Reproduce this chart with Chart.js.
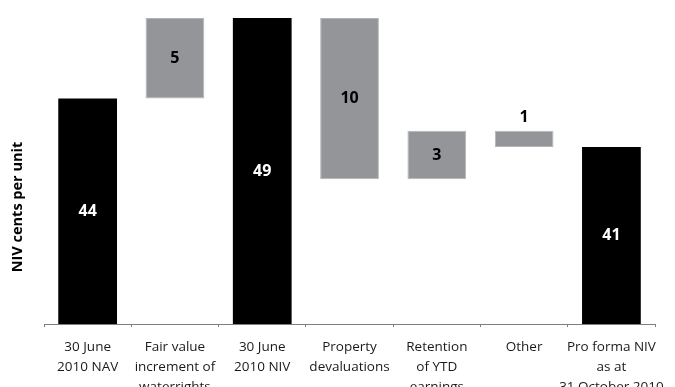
<!DOCTYPE html>
<html>
<head>
<meta charset="utf-8">
<script src="https://cdn.jsdelivr.net/npm/chart.js@4"></script>
<style>
  html, body { margin: 0; padding: 0; background: #fff; overflow: hidden; }
  #wrap { position: relative; width: 675px; height: 407px; }
</style>
</head>
<body>
<div id="wrap"><canvas id="c"></canvas></div>
<script>
// Bridge from 30 June 2010 NAV to pro forma NIV (cents per unit)
const categories = [
  ["30 June", "2010 NAV"],
  ["Fair value", "increment of", "waterrights"],
  ["30 June", "2010 NIV"],
  ["Property", "devaluations"],
  ["Retention", "of YTD", "earnings"],
  ["Other"],
  ["Pro forma NIV", "as at", "31 October 2010"]
];
const values = [44, 5, 49, -10, 3, -1, 41];
const kinds = ["total", "change", "total", "change", "change", "change", "total"];

const TOTAL_COLOR = "#000000";
const CHANGE_COLOR = "#939598";
const FONT = "'Open Sans', 'Noto Sans', sans-serif";

// Floating [start, end] ranges built from the running total
let running = 0;
const ranges = values.map((v, i) => {
  if (kinds[i] === "total") { running = v; return [0, v]; }
  const start = running;
  running += v;
  return [start, running];
});

const valueLabels = {
  id: "valueLabels",
  afterDatasetsDraw(chart) {
    const ctx = chart.ctx;
    const area = chart.chartArea;
    const meta = chart.getDatasetMeta(0);
    ctx.save();
    ctx.font = "bold 16px " + FONT;
    ctx.textAlign = "center";
    ctx.textBaseline = "middle";
    meta.data.forEach((bar, i) => {
      const top = Math.max(Math.min(bar.y, bar.base), area.top);
      const bottom = Math.min(Math.max(bar.y, bar.base), area.bottom);
      const h = bottom - top;
      const txt = String(Math.abs(values[i]));
      if (h < 20) {
        ctx.fillStyle = "#000";
        ctx.fillText(txt, bar.x, top - 13);
      } else {
        ctx.fillStyle = kinds[i] === "total" ? "#fff" : "#000";
        ctx.fillText(txt, bar.x, (top + bottom) / 2);
      }
    });
    ctx.restore();
  }
};

const axisTitle = {
  id: "axisTitle",
  afterDraw(chart) {
    const ctx = chart.ctx;
    ctx.save();
    ctx.translate(18, 207);
    ctx.rotate(-Math.PI / 2);
    ctx.font = "bold 14.5px " + FONT;
    ctx.fillStyle = "#000";
    ctx.textAlign = "center";
    ctx.textBaseline = "middle";
    ctx.fillText("NIV cents per unit", 0, 0);
    ctx.restore();
  }
};

new Chart(document.getElementById("c"), {
  type: "bar",
  data: {
    labels: categories,
    datasets: [{
      data: ranges,
      backgroundColor: kinds.map(k => k === "total" ? TOTAL_COLOR : CHANGE_COLOR),
      borderColor: kinds.map(k => k === "total" ? TOTAL_COLOR : "#b4b5b8"),
      borderWidth: kinds.map(k => k === "total" ? 0 : 1),
      borderSkipped: false,
      barPercentage: 0.673,
      categoryPercentage: 1.0
    }]
  },
  options: {
    responsive: true,
    maintainAspectRatio: false,
    animation: false,
    layout: { padding: { left: 44, right: 18, top: 2, bottom: 0 } },
    plugins: {
      legend: { display: false },
      tooltip: { enabled: false }
    },
    scales: {
      x: {
        grid: {
          offset: true,
          drawOnChartArea: false,
          drawTicks: true,
          tickLength: 3,
          color: "#7f7f7f"
        },
        border: { display: true, color: "#7f7f7f", width: 1 },
        ticks: {
          color: "#1a1a1a",
          font: { family: FONT, size: 13.5, lineHeight: 1.48 },
          padding: 10,
          maxRotation: 0,
          autoSkip: false
        }
      },
      y: {
        min: 30,
        max: 50,
        display: false
      }
    }
  },
  plugins: [valueLabels, axisTitle]
});
</script>
</body>
</html>
